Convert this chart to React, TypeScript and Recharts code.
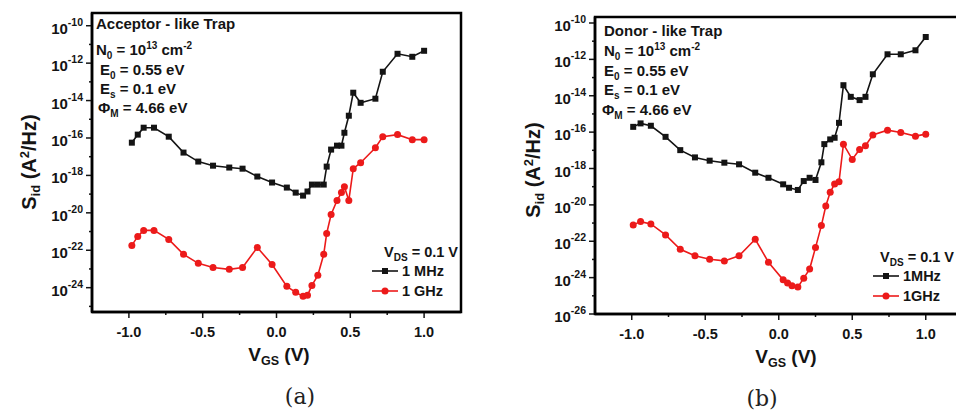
import { LineChart, Line, XAxis, YAxis, Legend } from 'recharts'

// values below are log10(S_id / A^2/Hz)

// (a) acceptor-like trap
const vgsA = [-0.98, -0.94, -0.9, -0.83, -0.73, -0.63, -0.53, -0.43, -0.32, -0.23, -0.13, -0.03, 0.07, 0.13, 0.18, 0.21, 0.24, 0.28, 0.32, 0.34, 0.37, 0.41, 0.44, 0.46, 0.49, 0.52, 0.57, 0.67, 0.72, 0.82, 0.92, 1.0]
const mhzA = [-16.25, -15.82, -15.45, -15.45, -15.93, -16.78, -17.26, -17.48, -17.58, -17.64, -18.06, -18.38, -18.65, -18.92, -19.08, -18.86, -18.49, -18.49, -18.49, -17.53, -16.62, -16.41, -16.41, -15.72, -14.81, -13.58, -14.12, -13.9, -12.46, -11.5, -11.66, -11.34]
const ghzA = [-21.74, -21.26, -20.94, -20.94, -21.42, -22.22, -22.7, -22.92, -23.02, -22.92, -21.85, -22.76, -23.93, -24.25, -24.46, -24.41, -23.88, -23.34, -22.22, -21.1, -20.09, -19.34, -18.92, -18.6, -19.34, -17.64, -17.32, -16.52, -15.93, -15.82, -16.09, -16.09]

// (b) donor-like trap
const vgsBm = [-0.99, -0.94, -0.87, -0.77, -0.67, -0.57, -0.47, -0.37, -0.27, -0.16, -0.07, 0.03, 0.07, 0.13, 0.17, 0.21, 0.25, 0.29, 0.31, 0.35, 0.38, 0.41, 0.44, 0.49, 0.55, 0.59, 0.64, 0.74, 0.83, 0.93, 1.0]
const mhzB = [-15.71, -15.52, -15.65, -16.26, -16.99, -17.39, -17.57, -17.68, -17.77, -18.23, -18.51, -18.87, -19.06, -19.18, -18.69, -18.51, -18.63, -17.66, -16.66, -16.4, -16.31, -15.49, -13.42, -14.06, -14.24, -14.06, -12.82, -11.72, -11.72, -11.5, -10.77]
const vgsBg = [-0.99, -0.94, -0.87, -0.77, -0.67, -0.57, -0.47, -0.37, -0.27, -0.16, -0.07, 0.03, 0.06, 0.09, 0.13, 0.17, 0.21, 0.25, 0.29, 0.32, 0.35, 0.38, 0.41, 0.44, 0.5, 0.55, 0.59, 0.64, 0.74, 0.83, 0.93, 1.0]
const ghzB = [-21.1, -20.92, -21.05, -21.65, -22.44, -22.8, -22.99, -23.08, -22.8, -21.89, -23.15, -24.12, -24.3, -24.45, -24.52, -24.03, -23.53, -22.35, -21.14, -20.06, -19.31, -18.85, -18.73, -16.66, -17.5, -16.95, -16.75, -16.16, -15.89, -16.02, -16.22, -16.11]

const xTicks = [-1, -0.75, -0.5, -0.25, 0, 0.25, 0.5, 0.75, 1]
const yTicksA = [-10, -11, -12, -13, -14, -15, -16, -17, -18, -19, -20, -21, -22, -23, -24, -25]
const yTicksB = [-10, -11, -12, -13, -14, -15, -16, -17, -18, -19, -20, -21, -22, -23, -24, -25, -26]

const X_DOMAIN: [number, number] = [-1.25, 1.25]
const INK = '#141414'
const RED = '#ec1a1a'
const FONT = '"Liberation Sans", Arial, sans-serif'

const toRows = (xs: number[], ys: number[]) => xs.map((x, i) => ({ vgs: x, s: ys[i] }))

function XTick({ x, y, payload }: any) {
  const v = payload.value
  const major = Math.abs(v * 2 - Math.round(v * 2)) < 1e-6
  return (
    <g>
      <line x1={x} x2={x} y1={y} y2={y + (major ? 6 : 3)} stroke={INK} strokeWidth={1.5} />
      {major && (
        <text x={x} y={y + 25} textAnchor="middle" fontSize={14.5} fontWeight={700} fill={INK} fontFamily={FONT}>
          {v.toFixed(1)}
        </text>
      )}
    </g>
  )
}

function YTick({ x, y, payload }: any) {
  const v = payload.value
  const major = v % 2 === 0
  return (
    <g>
      <line x1={x} x2={x - (major ? 6 : 3)} y1={y} y2={y} stroke={INK} strokeWidth={1.5} />
      {major && (
        <text x={x - 9} y={y + 8} textAnchor="end" fontSize={15} fontWeight={700} fill={INK} fontFamily={FONT}>
          10
          <tspan dy={-8} fontSize={10.5}>{v}</tspan>
        </text>
      )}
    </g>
  )
}

const squareDot = (p: any) => (
  <rect key={`sq-${p.index}`} x={p.cx - 3} y={p.cy - 3} width={6} height={6} fill={INK} />
)

function LegendBox({ names, dx, endX }: { names: string[]; dx: number; endX: number }) {
  return (
    <svg width={100} height={65} style={{ overflow: 'visible' }}>
      <text x={endX} y={17} textAnchor="end" fontSize={14.5} fontWeight={700} fill={INK} fontFamily={FONT}>
        V<tspan dy={4} fontSize={10}>DS</tspan>
        <tspan dy={-4}> = 0.1 V</tspan>
      </text>
      <line x1={dx} x2={dx + 26} y1={31} y2={31} stroke={INK} strokeWidth={1.6} />
      <rect x={dx + 10} y={28} width={6} height={6} fill={INK} />
      <text x={dx + 30} y={36} fontSize={14.5} fontWeight={700} fill={INK} fontFamily={FONT}>{names[0]}</text>
      <line x1={dx} x2={dx + 26} y1={51} y2={51} stroke={RED} strokeWidth={1.6} />
      <circle cx={dx + 13} cy={51} r={3.5} fill={RED} />
      <text x={dx + 30} y={56} fontSize={14.5} fontWeight={700} fill={INK} fontFamily={FONT}>{names[1]}</text>
    </svg>
  )
}

type PanelProps = {
  left: number
  width: number
  height: number
  top: number
  right: number
  yWidth: number
  yDomain: [number, number]
  yTicks: number[]
  mhz: { vgs: number; s: number }[]
  ghz: { vgs: number; s: number }[]
  names: string[]
  legendPos: { left: number; top: number }
  legendDx: number
  legendEnd: number
}

function Panel(p: PanelProps) {
  return (
    <div style={{ position: 'absolute', left: p.left, top: 0 }}>
      <LineChart width={p.width} height={p.height} margin={{ top: p.top, right: p.right, bottom: 0, left: 0 }}>
        <XAxis
          dataKey="vgs"
          type="number"
          domain={X_DOMAIN}
          ticks={xTicks}
          height={60}
          tick={<XTick />}
          tickSize={0}
          tickMargin={0}
          tickLine={false}
          axisLine={{ stroke: '#000', strokeWidth: 2.5 }}
          allowDataOverflow
        />
        <YAxis
          type="number"
          domain={p.yDomain}
          ticks={p.yTicks}
          width={p.yWidth}
          tick={<YTick />}
          tickSize={0}
          tickMargin={0}
          tickLine={false}
          axisLine={{ stroke: '#000', strokeWidth: 2.5 }}
          interval={0}
          allowDataOverflow
        />
        <Legend
          layout="vertical"
          align="center"
          verticalAlign="middle"
          wrapperStyle={{ left: p.legendPos.left, top: p.legendPos.top, width: 100, height: 65 }}
          content={() => <LegendBox names={p.names} dx={p.legendDx} endX={p.legendEnd} />}
        />
        <Line
          data={p.mhz}
          dataKey="s"
          name={p.names[0]}
          type="linear"
          stroke={INK}
          strokeWidth={1.6}
          dot={squareDot}
          activeDot={false}
          isAnimationActive={false}
        />
        <Line
          data={p.ghz}
          dataKey="s"
          name={p.names[1]}
          type="linear"
          stroke={RED}
          strokeWidth={1.6}
          dot={{ r: 3.5, fill: RED, stroke: RED, strokeWidth: 0 }}
          activeDot={false}
          isAnimationActive={false}
        />
      </LineChart>
    </div>
  )
}

const txt = { fontFamily: FONT, fontWeight: 700, fill: INK } as const

function Params({ x, y, title, x2 }: { x: number; y: number[]; title: string; x2: number }) {
  return (
    <g {...txt} fontSize={15}>
      <text x={x} y={y[0]}>{title}</text>
      <text x={x} y={y[1]}>
        N<tspan dy={4} fontSize={10}>0</tspan>
        <tspan dy={-4}> = 10</tspan>
        <tspan dy={-6} fontSize={10}>13</tspan>
        <tspan dy={6}> cm</tspan>
        <tspan dy={-6} fontSize={10}>-2</tspan>
      </text>
      <text x={x2} y={y[2]}>
        E<tspan dy={4} fontSize={10}>0</tspan>
        <tspan dy={-4}> = 0.55 eV</tspan>
      </text>
      <text x={x2} y={y[3]}>
        E<tspan dy={4} fontSize={10}>s</tspan>
        <tspan dy={-4}> = 0.1 eV</tspan>
      </text>
      <text x={x2 - 2} y={y[4]}>
        Φ<tspan dy={4} fontSize={10}>M</tspan>
        <tspan dy={-4}> = 4.66 eV</tspan>
      </text>
    </g>
  )
}

function YTitle({ x, y }: { x: number; y: number }) {
  return (
    <text x={x} y={y} transform={`rotate(-90 ${x} ${y})`} textAnchor="middle" fontSize={20} {...txt}>
      S<tspan dy={4} fontSize={13}>id</tspan>
      <tspan dy={-4}> (A</tspan>
      <tspan dy={-7} fontSize={13}>2</tspan>
      <tspan dy={7}>/Hz)</tspan>
    </text>
  )
}

function XTitle({ x, y }: { x: number; y: number }) {
  return (
    <text x={x} y={y} textAnchor="middle" fontSize={19} {...txt}>
      V<tspan dy={4} fontSize={12.5}>GS</tspan>
      <tspan dy={-4}> (V)</tspan>
    </text>
  )
}

export default function App() {
  return (
    <div style={{ position: 'absolute', left: 0, top: 0, width: 956, height: 414, overflow: 'hidden', background: '#fff' }}>
      <Panel
        left={0}
        width={480}
        height={372}
        top={13}
        right={19}
        yWidth={92}
        yDomain={[-25.3, -9.32]}
        yTicks={yTicksA}
        mhz={toRows(vgsA, mhzA)}
        ghz={toRows(vgsA, ghzA)}
        names={['1 MHz', '1 GHz']}
        legendPos={{ left: 360, top: 240 }}
        legendDx={12}
        legendEnd={98}
      />
      <Panel
        left={500}
        width={470}
        height={374}
        top={17}
        right={7.5}
        yWidth={95}
        yDomain={[-26, -9.67]}
        yTicks={yTicksB}
        mhz={toRows(vgsBm, mhzB)}
        ghz={toRows(vgsBg, ghzB)}
        names={['1MHz', '1GHz']}
        legendPos={{ left: 365, top: 245 }}
        legendDx={8}
        legendEnd={89}
      />
      <svg width={956} height={414} style={{ position: 'absolute', left: 0, top: 0, pointerEvents: 'none' }}>
        {/* top / right edges of the plot frames */}
        <rect x={92} y={13} width={369} height={299} fill="none" stroke="#000" strokeWidth={2.5} />
        <rect x={595} y={17} width={380} height={297} fill="none" stroke="#000" strokeWidth={2.5} />
        <Params x={96} x2={100} y={[29, 55, 75, 94, 113]} title="Acceptor - like Trap" />
        <Params x={604} x2={604} y={[36, 56, 76, 95, 115]} title="Donor - like Trap" />
        <YTitle x={36} y={162} />
        <YTitle x={540} y={170} />
        <XTitle x={279} y={361} />
        <XTitle x={786} y={363} />
        <text x={300} y={404} textAnchor="middle" fontSize={22} fontFamily='"DejaVu Serif", serif' fill="#222">(a)</text>
        <text x={762} y={406} textAnchor="middle" fontSize={22} fontFamily='"DejaVu Serif", serif' fill="#222">(b)</text>
      </svg>
    </div>
  )
}
